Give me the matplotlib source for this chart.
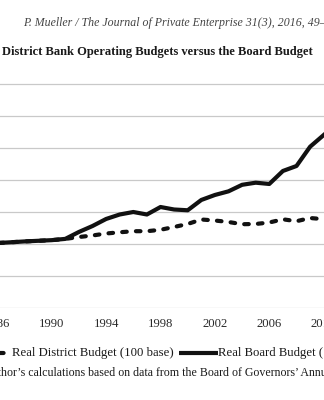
import matplotlib
matplotlib.use("Agg")
import matplotlib.pyplot as plt
from matplotlib.lines import Line2D

# Real budgets indexed to 100 in the base year
years = list(range(1985, 2011))
district_budget = [100, 101.5, 102.7, 104, 105, 106, 108,
                   110.9, 113.3, 116.4, 118.3, 120.0, 120.0, 122.2, 126.6,
                   131.3, 138.3, 136.7, 134.4, 130.9, 131.3, 133.6, 138.6,
                   135.6, 140.6, 138.8]
board_budget = [100, 101.5, 102.7, 104, 105, 106, 108,
                118.8, 128.1, 139.1, 146.1, 150.0, 146.1, 157.8, 153.9,
                152.7, 168.8, 176.6, 182.3, 192.5, 195.8, 193.8, 214.1,
                221.9, 252.0, 270.3]
tick_years = list(range(1986, 2011, 4))
y_grid = list(range(0, 351, 50))

W, H = 324, 400
plt.rcParams["font.family"] = ["Liberation Serif", "DejaVu Serif"]
fig = plt.figure(figsize=(W / 100, H / 100), dpi=100)
fig.patch.set_facecolor("white")

def fx(px):
    return px / W

def fy(py):
    return 1 - py / H

# plot area: 13.6 px per year, 1990 at x=51.7 px; 0 at y=308 px, 32 px per 50 units
px_per_year = 13.6
x1990 = 51.7
left_px, right_px = -97.2, 421.2
bottom_px = 308
px_per_unit = 32 / 50
ymax = 352
ax = fig.add_axes([fx(left_px), fy(bottom_px), (right_px - left_px) / W,
                   ymax * px_per_unit / H])
ax.set_xlim(1990 + (left_px - x1990) / px_per_year,
            1990 + (right_px - x1990) / px_per_year)
ax.set_ylim(0, ymax)

ink = "#111111"
lw = 3.0
dashes = (0, (1.1, 2.2))
dist_line, = ax.plot(years, district_budget, color=ink, lw=lw,
                     linestyle=dashes, dash_capstyle="round",
                     solid_joinstyle="round")
board_line, = ax.plot(years, board_budget, color=ink, lw=lw,
                      solid_capstyle="projecting", solid_joinstyle="round")

ax.set_yticks(y_grid)
ax.set_yticklabels([])
ax.grid(axis="y", color="#c9c9c9", lw=0.9)
ax.set_axisbelow(True)
for s in ax.spines.values():
    s.set_visible(False)
ax.set_xticks(tick_years)
ax.set_xticklabels([str(y) for y in tick_years])
ax.tick_params(axis="x", length=0, pad=7.5, labelsize=9.2, labelcolor="#2a2a2a")
ax.tick_params(axis="y", length=0)

# running header and chart title
fig.text(fx(23), fy(22.7),
         "P. Mueller / The Journal of Private Enterprise 31(3), 2016, 49\u201366",
         fontsize=8.55, style="italic", color="#444444", ha="left", va="center")
fig.text(fx(1.7), fy(51.7),
         "District Bank Operating Budgets versus the Board Budget",
         fontsize=9.0, weight="bold", color="#1a1a1a", ha="left", va="center")

# legend row
leg_y = fy(353)
fig.add_artist(Line2D([fx(-29), fx(10)], [leg_y, leg_y], color=ink, lw=lw,
                      linestyle=dashes, dash_capstyle="round",
                      transform=fig.transFigure))
fig.text(fx(11.7), leg_y, "Real District Budget (100 base)", fontsize=9.2,
         color="#1a1a1a", ha="left", va="center")
fig.add_artist(Line2D([fx(179), fx(218)], [leg_y, leg_y], color=ink, lw=lw,
                      solid_capstyle="butt", transform=fig.transFigure))
fig.text(fx(218.5), leg_y, "Real Board Budget (100 base)", fontsize=9.2,
         color="#1a1a1a", ha="left", va="center")

# source note, its start runs past the left margin
renderer = fig.canvas.get_renderer()
probe = fig.text(0, 0, "Source: Aut", fontsize=8.6)
shift = probe.get_window_extent(renderer).width
probe.remove()
fig.text(fx(0.5 - shift), fy(373),
         "Source: Author\u2019s calculations based on data from the Board of "
         "Governors\u2019 Annual Reports.",
         fontsize=8.6, color="#1a1a1a", ha="left", va="center")

fig.savefig("out.png", dpi=100, facecolor="white")
